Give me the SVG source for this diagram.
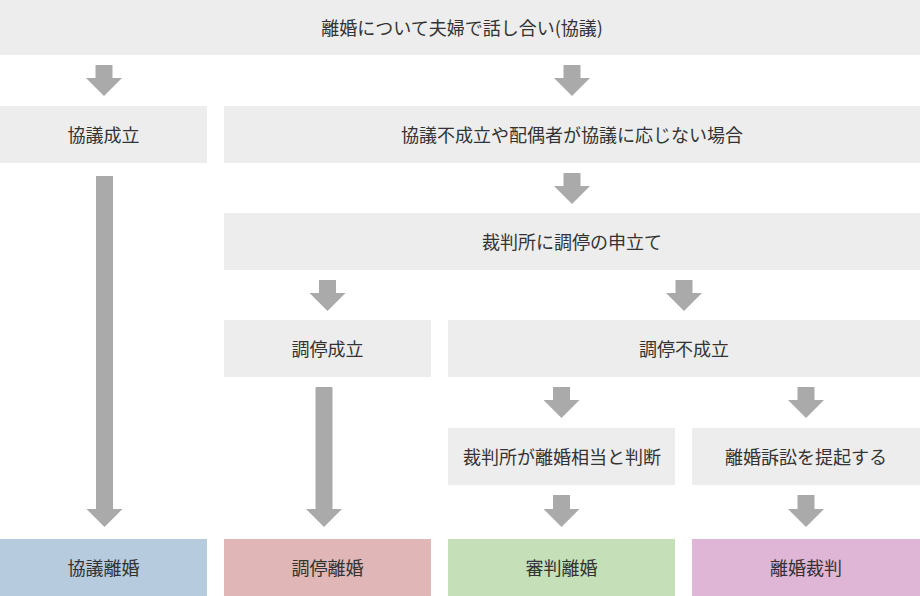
<svg xmlns="http://www.w3.org/2000/svg" width="920" height="596" viewBox="0 0 920 596">
<style>
.box{fill:#ededed}
.b1{fill:#b7cbdf}
.b2{fill:#e0b7b6}
.b3{fill:#c5dfb8}
.b4{fill:#dfb6d6}
.t{font-family:"Noto Sans CJK JP","Noto Sans",sans-serif;font-size:18px;fill:#333;text-anchor:middle}
.arr{fill:#aaaaaa}
</style>
<rect width="920" height="596" fill="#ffffff"/>
<g id="n-top"><rect class="box" x="0" y="0" width="920" height="55"/><text class="t" x="462" y="35">離婚について夫婦で話し合い(協議)</text></g>
<g id="n-kyogi-seiritsu"><rect class="box" x="0" y="106" width="207" height="57"/><text class="t" x="103.5" y="142">協議成立</text></g>
<g id="n-kyogi-fuseiritsu"><rect class="box" x="224" y="106" width="696" height="57"/><text class="t" x="572" y="142">協議不成立や配偶者が協議に応じない場合</text></g>
<g id="n-moshitate"><rect class="box" x="224" y="213" width="696" height="57"/><text class="t" x="572" y="249">裁判所に調停の申立て</text></g>
<g id="n-chotei-seiritsu"><rect class="box" x="224" y="320" width="207" height="57"/><text class="t" x="327.5" y="356">調停成立</text></g>
<g id="n-chotei-fuseiritsu"><rect class="box" x="448" y="320" width="472" height="57"/><text class="t" x="684" y="356">調停不成立</text></g>
<g id="n-handan"><rect class="box" x="448" y="428" width="227" height="57"/><text class="t" x="562" y="464">裁判所が離婚相当と判断</text></g>
<g id="n-teiki"><rect class="box" x="692" y="428" width="228" height="57"/><text class="t" x="806" y="464">離婚訴訟を提起する</text></g>
<g id="n-kyogi-rikon"><rect class="b1" x="0" y="539" width="207" height="57"/><text class="t" x="103.5" y="575">協議離婚</text></g>
<g id="n-chotei-rikon"><rect class="b2" x="224" y="539" width="207" height="57"/><text class="t" x="327.5" y="575">調停離婚</text></g>
<g id="n-shinpan-rikon"><rect class="b3" x="448" y="539" width="227" height="57"/><text class="t" x="561.5" y="575">審判離婚</text></g>
<g id="n-rikon-saiban"><rect class="b4" x="692" y="539" width="228" height="57"/><text class="t" x="806" y="575">離婚裁判</text></g>
<g id="connectors" class="arr">
<polygon points="95.5,65 112.5,65 112.5,78 122,78 104,96 86,78 95.5,78"/>
<polygon points="563.5,65 580.5,65 580.5,78 590,78 572,96 554,78 563.5,78"/>
<polygon points="96,176 113,176 113,509 122.5,509 104.5,527 86.5,509 96,509"/>
<polygon points="563.5,173 580.5,173 580.5,186 590,186 572,204 554,186 563.5,186"/>
<polygon points="319,280 336,280 336,293 345.5,293 327.5,311 309.5,293 319,293"/>
<polygon points="675.5,280 692.5,280 692.5,293 702,293 684,311 666,293 675.5,293"/>
<polygon points="315.5,387 332.5,387 332.5,509 342,509 324,527 306,509 315.5,509"/>
<polygon points="553,387 570,387 570,400 579.5,400 561.5,418 543.5,400 553,400"/>
<polygon points="797.5,387 814.5,387 814.5,400 824,400 806,418 788,400 797.5,400"/>
<polygon points="553,495 570,495 570,509 579.5,509 561.5,527 543.5,509 553,509"/>
<polygon points="797.5,495 814.5,495 814.5,509 824,509 806,527 788,509 797.5,509"/>
</g>
</svg>
